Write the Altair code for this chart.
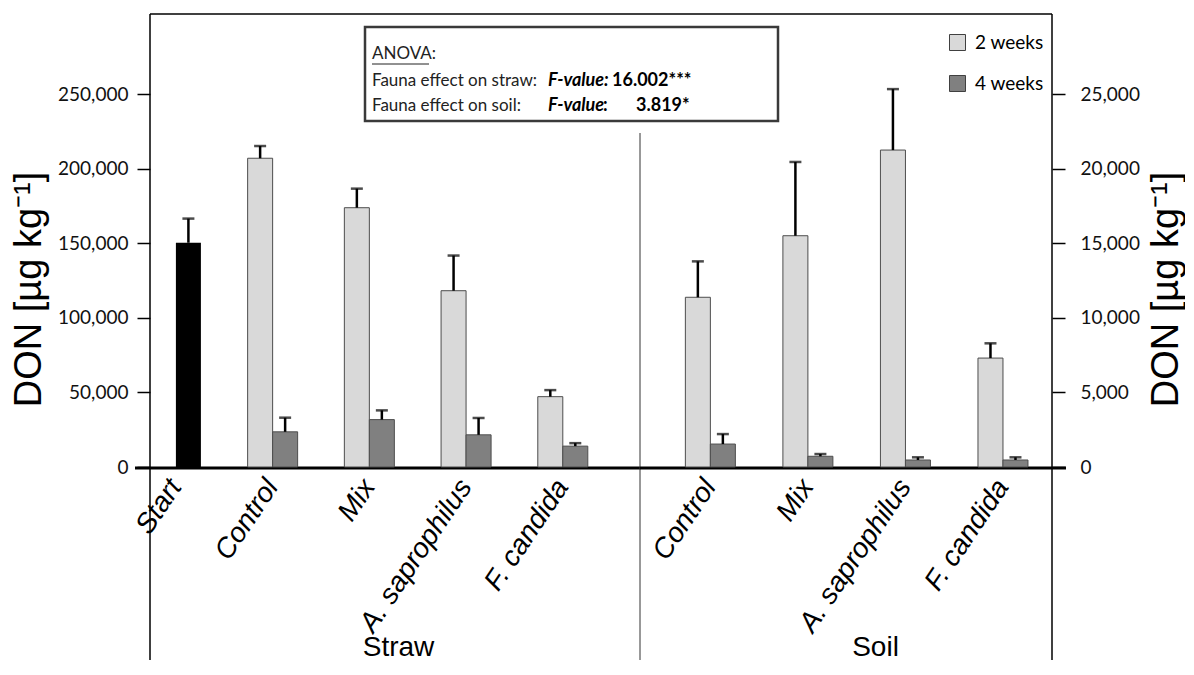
import altair as alt
import pandas as pd

# ---------------- data ----------------
straw_groups = ["Start", "Control", "Mix", "A. saprophilus", "F. candida"]
soil_groups = ["Control", "Mix", "A. saprophilus", "F. candida"]
treatments = ["Control", "Mix", "A. saprophilus", "F. candida"]
series = ["2 weeks", "4 weeks"]

start_mean = 150500
start_err = 16200

straw_2w = [207200, 174000, 118300, 47200]
straw_2w_err = [8200, 12800, 23600, 4400]
straw_4w = [23600, 31800, 21600, 14000]
straw_4w_err = [9500, 6200, 11300, 2000]

soil_2w = [11390, 15520, 21270, 7310]
soil_2w_err = [2410, 4950, 4090, 990]
soil_4w = [1540, 720, 470, 470]
soil_4w_err = [670, 150, 180, 180]

straw_ticks = [0, 50000, 100000, 150000, 200000, 250000]
soil_ticks = [0, 5000, 10000, 15000, 20000, 25000]

anova_title = "ANOVA:"
anova_rows = ["Fauna effect on straw:", "Fauna effect on soil:"]
f_label = "F-value"
f_values = ["16.002***", "3.819*"]


def build(m2, e2, m4, e4):
    rows = []
    for i, g in enumerate(treatments):
        rows.append({"group": g, "series": "2 weeks", "slot": "2 weeks",
                     "value": m2[i], "upper": m2[i] + e2[i]})
        rows.append({"group": g, "series": "4 weeks", "slot": "4 weeks",
                     "value": m4[i], "upper": m4[i] + e4[i]})
    return pd.DataFrame(rows)


straw_df = build(straw_2w, straw_2w_err, straw_4w, straw_4w_err)
soil_df = build(soil_2w, soil_2w_err, soil_4w, soil_4w_err)
start_df = pd.DataFrame([{"group": "Start", "series": "Start", "slot": "4 weeks",
                          "value": start_mean, "upper": start_mean + start_err}])
err_straw_df = pd.concat([start_df, straw_df], ignore_index=True)
one = pd.DataFrame({"k": [0]})

# ---------------- layout constants ----------------
W1, W2, H = 490, 412, 453
FRAME = 646
TICK_FONT = "Lato"
SANS = "Liberation Sans"
LINE = "#000000"

offset = alt.XOffset("slot:N", scale=alt.Scale(domain=series, paddingInner=0, paddingOuter=0))
color = alt.Color(
    "series:N",
    scale=alt.Scale(domain=series, range=["#d9d9d9", "#808080"]),
    legend=alt.Legend(orient="none", legendX=798, legendY=19, title=None,
                      symbolType="square", symbolSize=256, symbolStrokeColor="#404040",
                      symbolStrokeWidth=1, labelFont=TICK_FONT, labelFontSize=19,
                      labelColor="#000", rowPadding=20, labelOffset=8, padding=0),
)

x_axis_common = dict(domain=False, ticks=False, labelPadding=15, labelAngle=304,
                     labelAlign="right", labelBaseline="middle", labelFont=SANS,
                     labelFontStyle="italic", labelFontSize=28, labelColor="#000",
                     labelLimit=400, labelOverlap=False,
                     titleFont=SANS, titleFontSize=28, titleFontWeight="normal",
                     titleColor="#000", titleBaseline="alphabetic", titleY=188)

y_axis_common = dict(domain=False, grid=False, format=",.0f", tickSize=13, tickWidth=1.5,
                     tickColor="#000", labelFont=TICK_FONT, labelFontSize=19,
                     labelColor="#111", titleFont=SANS, titleFontSize=38,
                     titleFontWeight="normal", titleColor="#000", titleAngle=270,
                     titleAlign="center", titleBaseline="middle", titleY=275)

# ---------------- straw panel ----------------
xs = alt.X("group:N", scale=alt.Scale(domain=straw_groups, paddingInner=0.483,
                                      paddingOuter=0.2745, align=0.017),
           axis=alt.Axis(title="Straw", titleX=248, **x_axis_common))
ys = alt.Y("value:Q", scale=alt.Scale(domain=[0, 304000], nice=False),
           axis=alt.Axis(orient="left", values=straw_ticks, labelPadding=9,
                         title="DON [µg kg⁻¹]", titleX=-121, **y_axis_common))

s_bars = alt.Chart(straw_df).mark_bar(stroke="#4d4d4d", strokeWidth=1).encode(
    x=xs, xOffset=offset, y=ys, color=color)
s_start = alt.Chart(start_df).mark_bar(color="#000000").encode(x=xs, xOffset=offset, y=ys)
s_err = alt.Chart(err_straw_df).mark_rule(color="#000", strokeWidth=2.5).encode(
    x=xs, xOffset=offset, y="value:Q", y2="upper:Q")
s_cap = alt.Chart(err_straw_df).mark_tick(color="#000", thickness=2.5, size=12).encode(
    x=xs, xOffset=offset, y="upper:Q")

base = alt.Chart(one)
s_frame = alt.layer(
    base.mark_rule(color=LINE, strokeWidth=1.5).encode(x=alt.value(0), y=alt.value(0), y2=alt.value(FRAME)),
    base.mark_rule(color=LINE, strokeWidth=1.5).encode(x=alt.value(0), x2=alt.value(W1), y=alt.value(0)),
    base.mark_rule(color="#000", strokeWidth=3).encode(x=alt.value(-15), x2=alt.value(W1), y=alt.value(H + 1)),
)

txt = dict(align="left", baseline="middle", font=TICK_FONT)
box = alt.layer(
    base.mark_rect(fill="#ffffff", stroke="#3a3a3a", strokeWidth=2.5).encode(
        x=alt.value(215), x2=alt.value(628), y=alt.value(13), y2=alt.value(107)),
    base.mark_text(color="#222", fontSize=17, **txt).encode(
        x=alt.value(222), y=alt.value(40), text=alt.value(anova_title)),
    base.mark_rule(color="#222", strokeWidth=1).encode(x=alt.value(222), x2=alt.value(279), y=alt.value(50)),
    base.mark_text(color="#222", fontSize=17, **txt).encode(
        x=alt.value(222), y=alt.value(67), text=alt.value(anova_rows[0])),
    base.mark_text(color="#222", fontSize=17, **txt).encode(
        x=alt.value(222), y=alt.value(92), text=alt.value(anova_rows[1])),
    base.mark_text(color="#000", fontSize=18, fontWeight="bold", fontStyle="italic", **txt).encode(
        x=alt.value(398), y=alt.value(67), text=alt.value(f_label + ":")),
    base.mark_text(color="#000", fontSize=18, fontWeight="bold", **txt).encode(
        x=alt.value(462), y=alt.value(67), text=alt.value(f_values[0])),
    base.mark_text(color="#000", fontSize=18, fontWeight="bold", fontStyle="italic", **txt).encode(
        x=alt.value(398), y=alt.value(92), text=alt.value(f_label)),
    base.mark_text(color="#000", fontSize=18, fontWeight="bold", **txt).encode(
        x=alt.value(453), y=alt.value(92), text=alt.value(":")),
    base.mark_text(color="#000", fontSize=18, fontWeight="bold", **txt).encode(
        x=alt.value(486), y=alt.value(92), text=alt.value(f_values[1])),
)

straw = alt.layer(s_frame, s_bars, s_start, s_err, s_cap, box).properties(width=W1, height=H)

# ---------------- soil panel ----------------
xso = alt.X("group:N", scale=alt.Scale(domain=soil_groups, paddingInner=0.486,
                                       paddingOuter=0.355, align=0.655),
            axis=alt.Axis(title="Soil", titleX=235, **x_axis_common))
yso = alt.Y("value:Q", scale=alt.Scale(domain=[0, 30400], nice=False),
            axis=alt.Axis(orient="right", values=soil_ticks, labelPadding=15,
                          title="DON [µg kg⁻¹]", titleX=114, **y_axis_common))

o_bars = alt.Chart(soil_df).mark_bar(stroke="#4d4d4d", strokeWidth=1).encode(
    x=xso, xOffset=offset, y=yso, color=color)
o_err = alt.Chart(soil_df).mark_rule(color="#000", strokeWidth=2.5).encode(
    x=xso, xOffset=offset, y="value:Q", y2="upper:Q")
o_cap = alt.Chart(soil_df).mark_tick(color="#000", thickness=2.5, size=12).encode(
    x=xso, xOffset=offset, y="upper:Q")
o_frame = alt.layer(
    base.mark_rule(color=LINE, strokeWidth=1.5).encode(x=alt.value(W2), y=alt.value(0), y2=alt.value(FRAME)),
    base.mark_rule(color=LINE, strokeWidth=1.5).encode(x=alt.value(0), x2=alt.value(W2), y=alt.value(0)),
    base.mark_rule(color="#333", strokeWidth=1).encode(x=alt.value(0), y=alt.value(119), y2=alt.value(FRAME)),
    base.mark_rule(color="#000", strokeWidth=3).encode(x=alt.value(0), x2=alt.value(W2 + 14), y=alt.value(H + 1)),
)

soil = alt.layer(o_frame, o_bars, o_err, o_cap).properties(width=W2, height=H)

chart = alt.hconcat(straw, soil, spacing=0, bounds="flush").resolve_scale(
    x="independent", y="independent", color="shared"
).properties(
    padding={"left": 2, "top": 5, "right": 0, "bottom": 0},
    background="white",
).configure_view(stroke=None)

chart.save("out.html", embed_options={"renderer": "svg", "actions": False})
